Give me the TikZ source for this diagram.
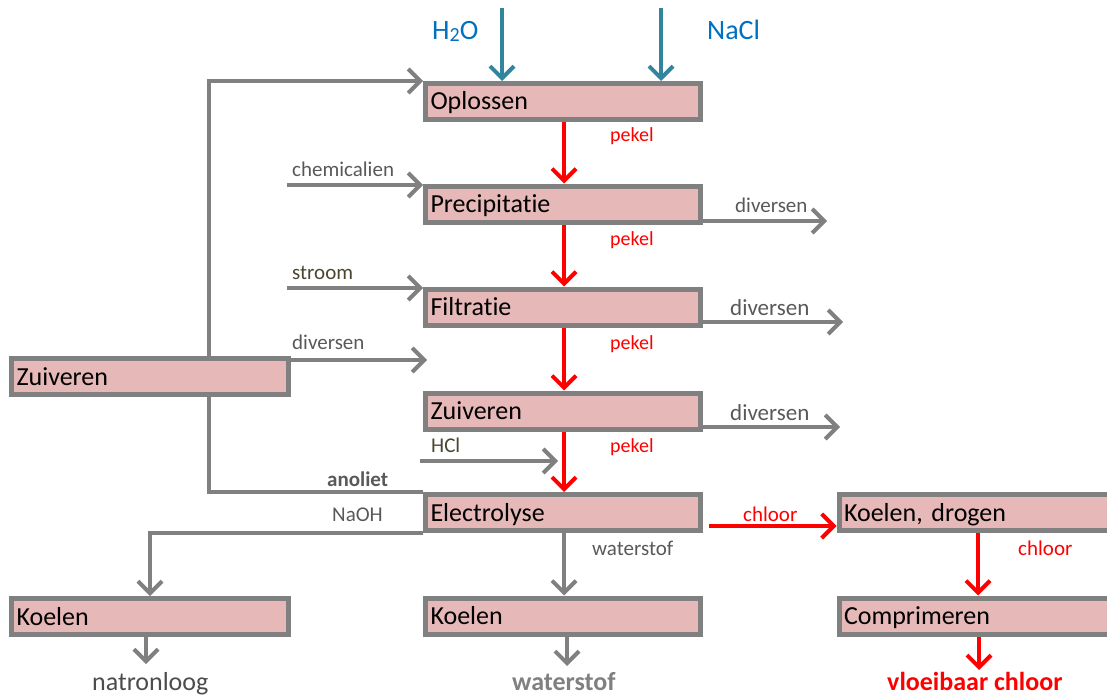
\documentclass[tikz,border=0pt]{standalone}
\usepackage{fontspec}
\setmainfont[Ligatures=NoCommon]{Carlito}
\usetikzlibrary{arrows.meta}
\definecolor{boxfill}{HTML}{E6B9B8}
\definecolor{boxline}{HTML}{808080}
\definecolor{lblgray}{HTML}{595959}
\definecolor{olivetxt}{HTML}{4A4630}
\definecolor{inflow}{HTML}{31859C}
\definecolor{inlabel}{HTML}{0070C0}
\begin{document}
\begin{tikzpicture}[x=1pt,y=-1pt,
  proc/.style={draw=boxline, fill=boxfill, line width=5pt, minimum width=275pt,
    minimum height=36pt, text width=265pt, align=left, inner xsep=5pt, inner ysep=0pt,
    text height=19pt, text depth=2pt, font=\fontsize{26}{30}\selectfont},
  procwide/.style={proc, minimum width=277pt, text width=267pt},
  tipbarb/.style={-{Straight Barb[length=12pt,width=24pt]}},
  garr/.style={draw=boxline, line width=4pt, tipbarb},
  gline/.style={draw=boxline, line width=4pt},
  rarr/.style={draw=red, line width=4pt, tipbarb},
  tarr/.style={draw=inflow, line width=4pt, tipbarb},
  lbl/.style={anchor=base west, inner sep=0pt, font=\fontsize{21}{25}\selectfont, text=lblgray},
  biglbl/.style={anchor=base west, inner sep=0pt, font=\fontsize{26}{30}\selectfont},
]
\useasboundingbox (0,0) rectangle (1107,695);
\clip (0,0) rectangle (1107,695);

% process boxes
\node[proc] (oplossen) at (563,101.5) {Oplossen};
\node[proc] (precip) at (563,204) {Precipitatie};
\node[proc] (filt) at (563,307) {Filtratie};
\node[proc] (zuivM) at (563,411) {Zuiveren};
\node[proc] (elec) at (563,512.5) {Electrolyse};
\node[proc] (koelM) at (563,616) {Koelen};
\node[procwide] (zuivL) at (150,376.5) {Zuiveren};
\node[procwide] (koelL) at (150,616.5) {Koelen};
\node[proc] (kd) at (976.5,512.5) {Koelen, drogen};
\node[proc] (comp) at (976.5,616) {Comprimeren};

% free ends
\coordinate (cx) at (564,0);
\coordinate (rx) at (209,0);
\coordinate (h2o) at (502,8);
\coordinate (nacl) at (661,8);
\coordinate (chemS) at (287,185);
\coordinate (stroomS) at (287,288);
\coordinate (divL) at (427,360);
\coordinate (divP) at (827,221);
\coordinate (divF) at (843,322);
\coordinate (divZ) at (840,427);
\coordinate (hclS) at (420,461);
\coordinate (hclE) at (558,461);
\coordinate (chlS) at (709,526);
\coordinate (natOut) at (146,664);
\coordinate (wsOut) at (567,666);
\coordinate (vcOut) at (979,670);
\coordinate (kx) at (978,0);

% top inputs
\draw[tarr] (h2o) -- (h2o |- oplossen.north);
\draw[tarr] (nacl) -- (nacl |- oplossen.north);

% main brine line
\draw[rarr] (cx |- oplossen.south) -- (cx |- precip.north);
\draw[rarr] (cx |- precip.south) -- (cx |- filt.north);
\draw[rarr] (cx |- filt.south) -- (cx |- zuivM.north);
\draw[rarr] (cx |- zuivM.south) -- (cx |- elec.north);

% left inputs
\draw[garr] (rx |- zuivL.north) |- (oplossen.north west);
\draw[garr] (chemS) -- (chemS -| precip.west);
\draw[garr] (stroomS) -- (stroomS -| filt.west);
\draw[garr] (divL -| zuivL.east) -- (divL);
\draw[garr] (hclS) -- (hclE);

% right outputs
\draw[garr] (divP -| precip.east) -- (divP);
\draw[garr] (divF -| filt.east) -- (divF);
\draw[garr] (divZ -| zuivM.east) -- (divZ);

% anolyte recycle and NaOH
\draw[gline] (rx |- zuivL.south) |- (elec.north west);
\draw[garr] (elec.south west) -| (koelL.north);
\draw[garr] (koelL.south -| natOut) -- (natOut);

% hydrogen
\draw[garr] (cx |- elec.south) -- (cx |- koelM.north);
\draw[garr] (koelM.south -| wsOut) -- (wsOut);

% chlorine
\draw[rarr] (chlS) -- (chlS -| kd.west);
\draw[rarr] (kx |- kd.south) -- (kx |- comp.north);
\draw[rarr] (comp.south -| vcOut) -- (vcOut);

% labels
\node[biglbl, text=inlabel, font=\fontsize{28}{32}\selectfont] (lh2o) at (432,40) {H\raisebox{-2pt}{\fontsize{20}{24}\selectfont 2}O};
\node[biglbl, text=inlabel, font=\fontsize{28}{32}\selectfont] (lnacl) at (707,40) {NaCl};
\node[lbl, text=red, font=\fontsize{20}{24}\selectfont] (p1) at (610,142) {pekel};
\node[lbl, text=red, font=\fontsize{20}{24}\selectfont] (p2) at (610,245) {pekel};
\node[lbl, text=red, font=\fontsize{20}{24}\selectfont] (p3) at (610,349) {pekel};
\node[lbl, text=red, font=\fontsize{20}{24}\selectfont] (p4) at (610,452) {pekel};
\node[lbl] (lchem) at (292,176) {chemicalien};
\node[lbl, text=olivetxt] (lstroom) at (292,279) {stroom};
\node[lbl] (ldivL) at (292,349) {diversen};
\node[lbl] (ldivP) at (735,212) {diversen};
\node[lbl, font=\fontsize{23}{27}\selectfont] (ldivF) at (730,315) {diversen};
\node[lbl, font=\fontsize{23}{27}\selectfont] (ldivZ) at (730,420) {diversen};
\node[lbl, text=olivetxt] (lhcl) at (431,452) {HCl};
\node[lbl, font=\fontsize{21}{25}\bfseries] (lano) at (327,486) {anoliet};
\node[lbl] (lnaoh) at (332,521) {NaOH};
\node[lbl] (lws) at (592,555) {waterstof};
\node[lbl, text=red] (lchl1) at (743,521) {chloor};
\node[lbl, text=red] (lchl2) at (1018,555) {chloor};
\node[biglbl, text=lblgray!85!black] (lnat) at (92,690) {natronloog};
\node[biglbl, text=boxline, font=\fontsize{26}{30}\bfseries] (lwsb) at (512,690) {waterstof};
\node[biglbl, text=red, font=\fontsize{26}{30}\bfseries] (lvc) at (887,690) {vloeibaar chloor};
\end{tikzpicture}
\end{document}
